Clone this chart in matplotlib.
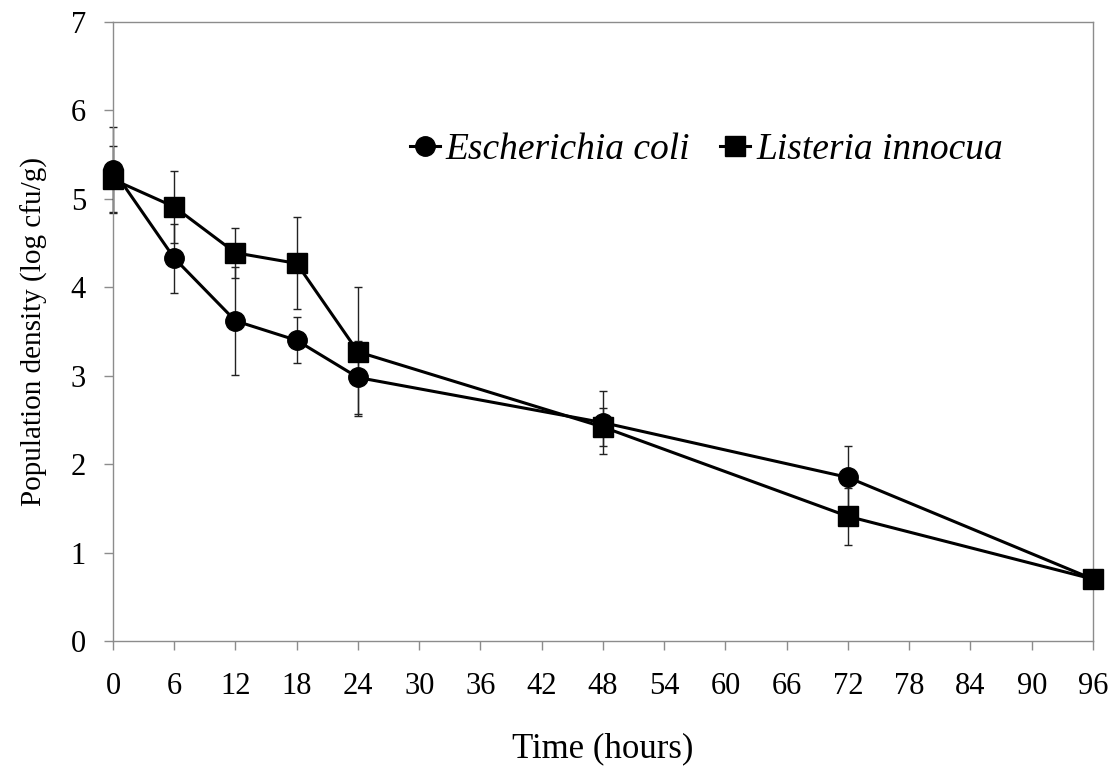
import matplotlib.pyplot as plt

plt.rcParams['font.family'] = ['Liberation Serif', 'DejaVu Serif']

# time points (hours)
hours = [0, 6, 12, 18, 24, 48, 72, 96]

# Escherichia coli, log cfu/g
ecoli = [5.33, 4.33, 3.62, 3.40, 2.98, 2.47, 1.85, 0.70]
ecoli_err = [0.48, 0.39, 0.61, 0.26, 0.41, 0.36, 0.35, 0.0]

# Listeria innocua, log cfu/g
listeria = [5.22, 4.91, 4.39, 4.27, 3.27, 2.42, 1.41, 0.70]
listeria_err = [0.38, 0.41, 0.28, 0.52, 0.73, 0.22, 0.32, 0.0]

xtick_values = list(range(0, 97, 6))

fig = plt.figure(figsize=(11.14, 7.77), dpi=100)
ax = fig.add_axes([0.1014, 0.175, 0.8797, 0.7967])

for y, err in ((ecoli, ecoli_err), (listeria, listeria_err)):
    ax.errorbar(hours, y, yerr=err, fmt='none', ecolor='#222222',
                elinewidth=1.0, capsize=3, capthick=1.0, clip_on=False, zorder=2)

ax.plot(hours, ecoli, color='black', lw=2.2, marker='o', ms=14,
        label='Escherichia coli', clip_on=False, zorder=3)
ax.plot(hours, listeria, color='black', lw=2.2, marker='s', ms=14,
        label='Listeria innocua', clip_on=False, zorder=3)

ax.set_xlim(0, 96)
ax.set_ylim(0, 7)
ax.set_xticks(xtick_values)
ax.set_yticks(range(0, 8))

for s in ax.spines.values():
    s.set_color('#8c8c8c')
    s.set_linewidth(1.0)

ax.tick_params(axis='both', direction='out', length=6.5, width=1.0,
               color='#8c8c8c', labelsize=22)
ax.tick_params(axis='x', pad=16)
ax.tick_params(axis='y', pad=13)

ax.set_xlabel('Time (hours)', fontsize=25, labelpad=22)
ax.set_ylabel('Population density (log cfu/g)', fontsize=21, labelpad=16)

leg = ax.legend(loc='upper left', bbox_to_anchor=(0.288, 0.845), ncol=2,
                frameon=False, handlelength=0.8, handletextpad=0.15,
                columnspacing=0.8, borderaxespad=0,
                prop={'family': 'Liberation Serif', 'style': 'italic', 'size': 27})

fig.savefig('out.png', dpi=100)
